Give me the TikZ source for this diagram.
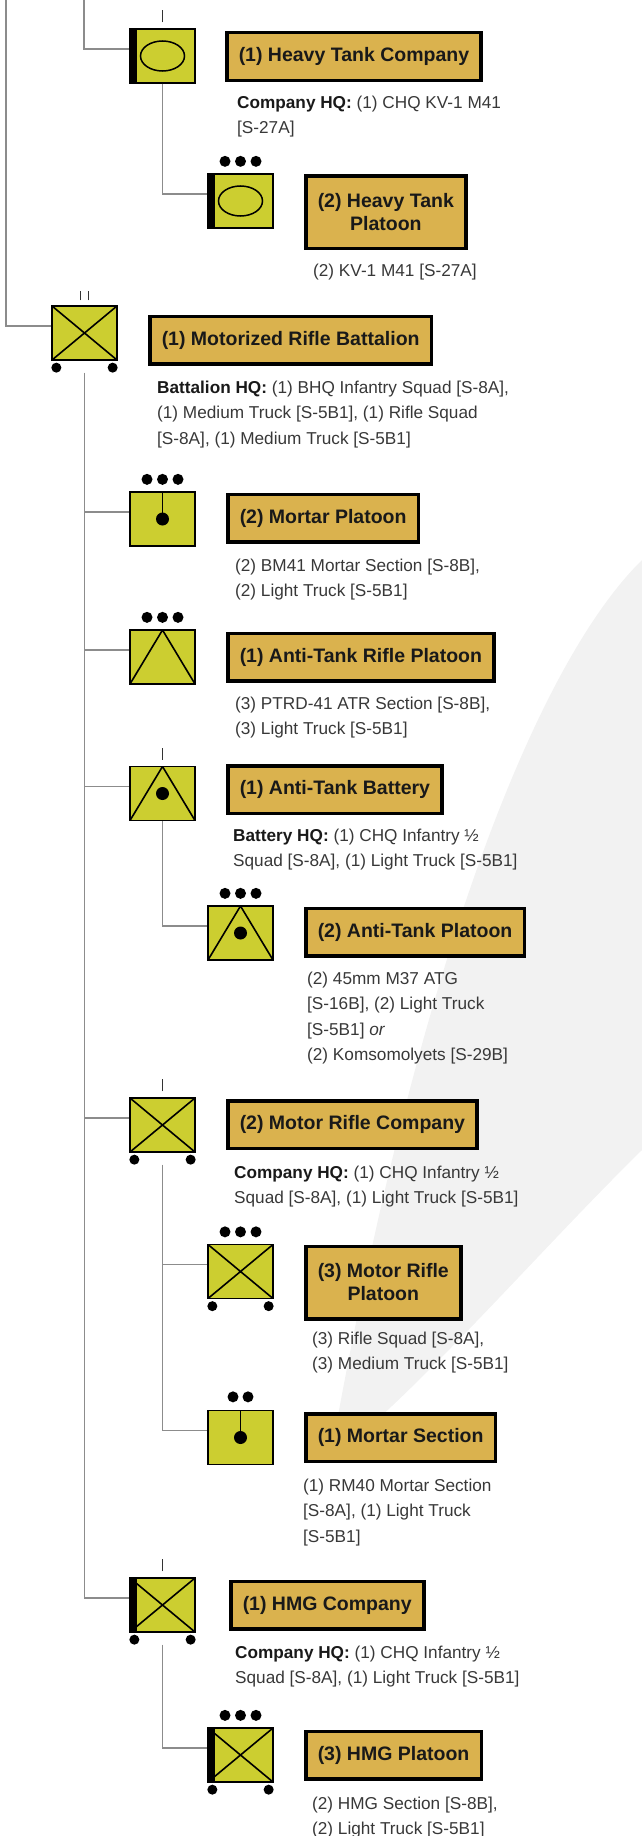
\documentclass[tikz,border=0pt]{standalone}
\usepackage{fontspec}
\setmainfont{Liberation Sans}
\usepackage{tikz}

\definecolor{symfill}{RGB}{204,206,48}
\definecolor{tagfill}{RGB}{218,178,78}

\begin{document}
\begin{tikzpicture}[x=1pt, y=-1pt]

\tikzstyle{unit_sym} = [rectangle, draw=black, line width=1.3pt, fill=symfill, minimum width=65pt, minimum height=54pt, inner sep=0pt]
\tikzstyle{sym_inf} = [unit_sym, path picture={\draw[black, line width=1.6pt] (path picture bounding box.north west) -- (path picture bounding box.south east) (path picture bounding box.south west) -- (path picture bounding box.north east);}]
\tikzstyle{sym_at} = [unit_sym, path picture={\draw[black, line width=1.6pt] (path picture bounding box.south west) -- (path picture bounding box.north) -- (path picture bounding box.south east);}]
\tikzstyle{sym_atgun} = [unit_sym, path picture={\draw[black, line width=1.6pt] (path picture bounding box.south west) -- (path picture bounding box.north) -- (path picture bounding box.south east); \fill[black] (path picture bounding box.center) circle (6.5pt);}]
\tikzstyle{sym_tank} = [unit_sym, path picture={\draw[black, line width=1.5pt] (path picture bounding box.center) ellipse (22pt and 15pt);}]
\tikzstyle{sym_mortar} = [unit_sym, path picture={\draw[black, line width=1.8pt] (path picture bounding box.north) -- (path picture bounding box.center); \fill[black] (path picture bounding box.center) circle (6.5pt);}]
\tikzstyle{unit_tag} = [rectangle, draw=black, line width=3.5pt, fill=tagfill, anchor=west, inner xsep=12pt, inner ysep=3pt, minimum height=47.5pt, align=center, text=black!90, font={\fontsize{19.5}{23}\selectfont\bfseries}]
\tikzstyle{unit_info} = [anchor=north west, inner sep=0pt, align=left, text=black!78, font={\fontsize{17.2}{25.5}\selectfont}]
\tikzstyle{tree_link} = [draw=black!45, line width=1.3pt]
\tikzstyle{echelon_tick} = [draw=black!80, line width=1.8pt]

\useasboundingbox (0,0) rectangle (642,1836);

% faint swoosh in the background
\fill[black!5] (642,560) .. controls (540,660) and (420,950) .. (330,1460) .. controls (420,1390) and (540,1250) .. (642,1150) -- cycle;

%------------------------------------------------------------
	\node[sym_tank] (htco) at (162.5,56) {};
	\node[unit_tag] (htco_tag) at (225,56.5) {(1) Heavy Tank Company};
	\node[unit_info] (htco_txt) at (237,95.5) {\textcolor{black!90}{\textbf{Company HQ:}} (1) CHQ KV-1 M41\\{}[S-27A]};

	\node[sym_tank] (htpl) at (240.5,201) {};
	\node[unit_tag, minimum height=72.5pt] (htpl_tag) at (304,212) {(2) Heavy Tank\\ Platoon};
	\node[unit_info] (htpl_txt) at (313,263.5) {(2) KV-1 M41 [S-27A]};

%------------------------------------------------------------
	\node[sym_inf] (bn) at (84.5,333) {};
	\node[unit_tag] (bn_tag) at (148,340) {(1) Motorized Rifle Battalion};
	\node[unit_info] (bn_txt) at (157,380.5) {\textcolor{black!90}{\textbf{Battalion HQ:}} (1) BHQ Infantry Squad [S-8A],\\ (1) Medium Truck [S-5B1], (1) Rifle Squad\\{}[S-8A], (1) Medium Truck [S-5B1]};

%------------------------------------------------------------
	\node[sym_mortar] (mpl) at (162.5,519) {};
	\node[unit_tag] (mpl_tag) at (226,518) {(2) Mortar Platoon};
	\node[unit_info] (mpl_txt) at (235,558.5) {(2) BM41 Mortar Section [S-8B],\\ (2) Light Truck [S-5B1]};

	\node[sym_at] (atrpl) at (162.5,657) {};
	\node[unit_tag] (atrpl_tag) at (226,657) {(1) Anti-Tank Rifle Platoon};
	\node[unit_info] (atrpl_txt) at (235,696.5) {(3) PTRD-41 ATR Section [S-8B],\\ (3) Light Truck [S-5B1]};

%------------------------------------------------------------
	\node[sym_atgun] (atbty) at (162.5,793.5) {};
	\node[unit_tag] (atbty_tag) at (226,789.5) {(1) Anti-Tank Battery};
	\node[unit_info] (atbty_txt) at (233,828.5) {\textcolor{black!90}{\textbf{Battery HQ:}} (1) CHQ Infantry ½\\ Squad [S-8A], (1) Light Truck [S-5B1]};

	\node[sym_atgun] (atpl) at (240.5,933) {};
	\node[unit_tag] (atpl_tag) at (304,932) {(2) Anti-Tank Platoon};
	\node[unit_info] (atpl_txt) at (307,971.5) {(2) 45mm M37 ATG\\{}[S-16B], (2) Light Truck\\{}[S-5B1] \textit{or}\\ (2) Komsomolyets [S-29B]};

%------------------------------------------------------------
	\node[sym_inf] (rco) at (162.5,1125) {};
	\node[unit_tag] (rco_tag) at (226,1124.5) {(2) Motor Rifle Company};
	\node[unit_info] (rco_txt) at (234,1165.5) {\textcolor{black!90}{\textbf{Company HQ:}} (1) CHQ Infantry ½\\ Squad [S-8A], (1) Light Truck [S-5B1]};

	\node[sym_inf] (rpl) at (240.5,1271.5) {};
	\node[unit_tag, minimum height=72.5pt] (rpl_tag) at (304,1282.5) {(3) Motor Rifle\\ Platoon};
	\node[unit_info] (rpl_txt) at (312,1331.5) {(3) Rifle Squad [S-8A],\\ (3) Medium Truck [S-5B1]};

	\node[sym_mortar] (msec) at (240.5,1437.5) {};
	\node[unit_tag] (msec_tag) at (304,1437.5) {(1) Mortar Section};
	\node[unit_info] (msec_txt) at (303,1478.5) {(1) RM40 Mortar Section\\{}[S-8A], (1) Light Truck\\{}[S-5B1]};

%------------------------------------------------------------
	\node[sym_inf] (hco) at (162.5,1605) {};
	\node[unit_tag] (hco_tag) at (229,1605) {(1) HMG Company};
	\node[unit_info] (hco_txt) at (235,1645.5) {\textcolor{black!90}{\textbf{Company HQ:}} (1) CHQ Infantry ½\\ Squad [S-8A], (1) Light Truck [S-5B1]};

	\node[sym_inf] (hpl) at (240.5,1755) {};
	\node[unit_tag] (hpl_tag) at (304,1755) {(3) HMG Platoon};
	\node[unit_info] (hpl_txt) at (312,1796.5) {(2) HMG Section [S-8B],\\ (2) Light Truck [S-5B1]};

%------------------------------------------------------------
% heavy bars, wheels and echelon marks
	\foreach \u in {htco,htpl,hco,hpl}
		\fill ([xshift=-0.6pt]\u.north west) rectangle ([xshift=8pt]\u.south west);
	\foreach \u in {bn,rco,rpl,hco,hpl} {
		\fill ([xshift=5pt,yshift=-7pt]\u.south west) circle (5pt);
		\fill ([xshift=-5pt,yshift=-7pt]\u.south east) circle (5pt);
	}
	\foreach \u in {htpl,mpl,atrpl,atpl,rpl,hpl}
		\foreach \dx in {-15.5,0,15.5}
			\fill ([xshift=\dx pt,yshift=12pt]\u.north) circle (5.5pt);
	\foreach \dx in {-7.5,7.5}
		\fill ([xshift=\dx pt,yshift=13pt]msec.north) circle (5.5pt);
	\foreach \u in {htco,atbty,rco,hco}
		\draw[echelon_tick] ([yshift=6pt]\u.north) -- ([yshift=18pt]\u.north);
	\foreach \dx in {-4,4}
		\draw[echelon_tick] ([xshift=\dx pt,yshift=5pt]bn.north) -- ([xshift=\dx pt,yshift=14pt]bn.north);

%------------------------------------------------------------
% tree
	\foreach \u in {htco,htpl,bn,mpl,atrpl,atbty,atpl,rco,rpl,msec,hco,hpl}
		\coordinate (\u_in) at ([yshift=7pt]\u.west);
	\coordinate (top_a) at (6,0);
	\coordinate (top_b) at (84,0);

	\draw[tree_link] (top_a) |- (bn_in);
	\draw[tree_link] (top_b) |- (htco_in);
	\draw[tree_link] (htco.south) |- (htpl_in);
	\draw[tree_link] ([yshift=-12pt]bn.south) |- (hco_in);
	\foreach \u in {mpl,atrpl,atbty,rco}
		\draw[tree_link] (bn.south |- \u_in) -- (\u_in);
	\draw[tree_link] (atbty.south) |- (atpl_in);
	\draw[tree_link] ([yshift=-12pt]rco.south) |- (msec_in);
	\draw[tree_link] (rco.south |- rpl_in) -- (rpl_in);
	\draw[tree_link] ([yshift=-12pt]hco.south) |- (hpl_in);

\end{tikzpicture}
\end{document}
